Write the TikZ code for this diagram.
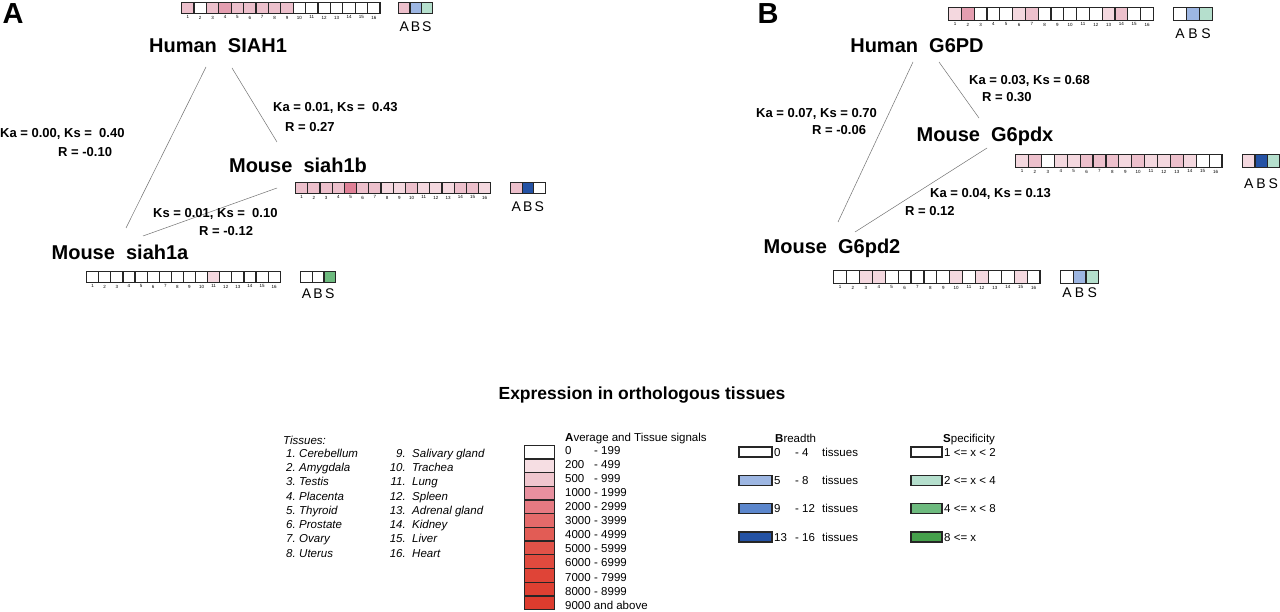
\documentclass[tikz,border=0pt]{standalone}
\usepackage{fontspec}
\setmainfont{Liberation Sans}
\usepackage{xcolor}
\usetikzlibrary{positioning,calc}

% strip colours
\definecolor{cw}{HTML}{FFFFFF}
\definecolor{cp1}{HTML}{F4D8DF}
\definecolor{cp2}{HTML}{EDC0CC}
\definecolor{cp3}{HTML}{E49EB0}
\definecolor{cp4}{HTML}{DF8096}
% legend colours
\definecolor{sg0}{HTML}{FFFFFF}
\definecolor{sg1}{HTML}{F6DEE3}
\definecolor{sg2}{HTML}{F0C6CE}
\definecolor{sg3}{HTML}{E8909F}
\definecolor{sg4}{HTML}{E67A82}
\definecolor{sg5}{HTML}{E46A6A}
\definecolor{sg6}{HTML}{E25C55}
\definecolor{sg7}{HTML}{E15248}
\definecolor{sg8}{HTML}{E04A3E}
\definecolor{sg9}{HTML}{DF4437}
\definecolor{sg10}{HTML}{DE4032}
\definecolor{sg11}{HTML}{DD3C2E}
\definecolor{br0}{HTML}{FFFFFF}
\definecolor{br1}{HTML}{9DB6E2}
\definecolor{br2}{HTML}{5B86CC}
\definecolor{br3}{HTML}{2452A4}
\definecolor{sp0}{HTML}{FFFFFF}
\definecolor{sp1}{HTML}{B5DFCD}
\definecolor{sp2}{HTML}{6DBA7E}
\definecolor{sp3}{HTML}{45A04B}

\begin{document}
\begin{tikzpicture}[x=1pt, y=-1pt,
  panel/.style={font=\bfseries\fontsize{29}{30}\selectfont, inner sep=0pt},
  gene/.style={font=\bfseries\fontsize{20}{24}\selectfont, inner sep=0pt,
               text height=14.5pt, text depth=0pt},
  kaks/.style={font=\bfseries\fontsize{13}{15}\selectfont, inner sep=0pt,
               anchor=west, text height=9.4pt, text depth=0pt},
  tbox/.style={draw=black!85, line width=1.2pt, anchor=north west, inner sep=0pt},
  tnum/.style={font=\fontsize{4.5}{5}\selectfont, inner sep=0pt},
  absl/.style={font=\fontsize{14}{16}\selectfont, inner sep=0pt},
  edge/.style={draw=black!55, line width=0.5pt},
  lbox/.style={draw=black!85, line width=1.3pt, inner sep=0pt},
  ltxt/.style={font=\fontsize{11.5}{13}\selectfont, inner sep=0pt,
               anchor=west, text height=8.3pt, text depth=0pt},
  tis/.style={font=\itshape\fontsize{11.5}{13}\selectfont, inner sep=0pt,
              text height=8.3pt, text depth=0pt}
]
\useasboundingbox[fill=white] (0,0) rectangle (1280,612);

% ---- Panel A ----
\node[panel] (pA) at (13,14) {A};
\node[gene] (hS)   at (218,45)  {Human\ \ SIAH1};
\node[gene] (ms1b) at (298,165) {Mouse\ \ siah1b};
\node[gene] (ms1a) at (120,252) {Mouse\ \ siah1a};

\draw[edge] ($(hS)+(-12,22)$) -- ($(ms1a)+(6,-24)$);
\draw[edge] ($(hS)+(14,23)$) -- ($(ms1b)+(-21,-23)$);
\draw[edge] ($(ms1b)+(-21,23)$) -- ($(ms1a)+(23,-16)$);

\node[kaks] (kA1) at (273,107) {Ka = 0.01, Ks = \ 0.43};
\node[kaks] (rA1) at (285,127) {R = 0.27};
\node[kaks] (kA2) at (0,133)   {Ka = 0.00, Ks = \ 0.40};
\node[kaks] (rA2) at (58,152)  {R = -0.10};
\node[kaks] (kA3) at (153,213) {Ks = 0.01, Ks = \ 0.10};
\node[kaks] (rA3) at (199,231) {R = -0.12};

% Human SIAH1 strip
\foreach \c [count=\i] in {cp2,cw,cp2,cp3,cp2,cp2,cp2,cp2,cp2,cw,cw,cw,cw,cw,cw,cw} {
  \node[tbox, minimum width=12.4pt, minimum height=11pt, fill=\c] (hSb\i) at ({181+12.4*(\i-1)},2) {};
  \node[tnum, below=1.5pt of hSb\i] (hSn\i) {\i};
}
\foreach \c/\l [count=\i] in {cp2/A,br1/B,sp1/S} {
  \node[tbox, minimum width=11.3pt, minimum height=11pt, fill=\c] (hSa\i) at ({398+11.3*(\i-1)},2) {};
  \node[absl, below=7pt of hSa\i] (hSl\i) {\l};
}

% Mouse siah1b strip
\foreach \c [count=\i] in {cp2,cp2,cp2,cp2,cp4,cp2,cp2,cp1,cp1,cp2,cp1,cp1,cp1,cp2,cp2,cp1} {
  \node[tbox, minimum width=12.2pt, minimum height=11pt, fill=\c] (s1bb\i) at ({295+12.2*(\i-1)},182) {};
  \node[tnum, below=1.5pt of s1bb\i] (s1bn\i) {\i};
}
\foreach \c/\l [count=\i] in {cp2/A,br3/B,cw/S} {
  \node[tbox, minimum width=11.5pt, minimum height=11pt, fill=\c] (s1ba\i) at ({510+11.5*(\i-1)},182) {};
  \node[absl, below=7pt of s1ba\i] (s1bl\i) {\l};
}

% Mouse siah1a strip
\foreach \c [count=\i] in {cw,cw,cw,cw,cw,cw,cw,cw,cw,cw,cp1,cw,cw,cw,cw,cw} {
  \node[tbox, minimum width=12.1pt, minimum height=11pt, fill=\c] (s1ab\i) at ({86+12.1*(\i-1)},271) {};
  \node[tnum, below=1.5pt of s1ab\i] (s1an\i) {\i};
}
\foreach \c/\l [count=\i] in {cw/A,cw/B,sp2/S} {
  \node[tbox, minimum width=11.7pt, minimum height=11pt, fill=\c] (s1aa\i) at ({300+11.7*(\i-1)},271) {};
  \node[absl, below=5pt of s1aa\i] (s1al\i) {\l};
}

% ---- Panel B ----
\node[panel] (pB) at (768,14) {B};
\node[gene] (hG)  at (917,45)  {Human\ \ G6PD};
\node[gene] (mGx) at (985,134) {Mouse\ \ G6pdx};
\node[gene] (mG2) at (832,246) {Mouse\ \ G6pd2};

\draw[edge] ($(hG)+(-4,17)$) -- ($(mG2)+(6,-24)$);
\draw[edge] ($(hG)+(22,17)$) -- ($(mGx)+(-6,-16)$);
\draw[edge] ($(mGx)+(2,14)$) -- ($(mG2)+(23,-14)$);

\node[kaks] (kB1) at (969,80)  {Ka = 0.03, Ks = 0.68};
\node[kaks] (rB1) at (982,97)  {R = 0.30};
\node[kaks] (kB2) at (756,113) {Ka = 0.07, Ks = 0.70};
\node[kaks] (rB2) at (812,130) {R = -0.06};
\node[kaks] (kB3) at (930,193) {Ka = 0.04, Ks = 0.13};
\node[kaks] (rB3) at (905,211) {R = 0.12};

% Human G6PD strip
\foreach \c [count=\i] in {cp1,cp3,cw,cw,cw,cp1,cp2,cw,cw,cw,cw,cw,cp1,cp2,cw,cw} {
  \node[tbox, minimum width=12.8pt, minimum height=13pt, fill=\c] (hGb\i) at ({948+12.8*(\i-1)},7) {};
  \node[tnum, below=1.5pt of hGb\i] (hGn\i) {\i};
}
\foreach \c/\l [count=\i] in {cw/A,br1/B,sp1/S} {
  \node[tbox, minimum width=13pt, minimum height=13pt, fill=\c] (hGa\i) at ({1173+13*(\i-1)},7) {};
  \node[absl, below=7pt of hGa\i] (hGl\i) {\l};
}

% Mouse G6pdx strip
\foreach \c [count=\i] in {cp1,cp2,cw,cp1,cp1,cp2,cp2,cp2,cp1,cp2,cp1,cp1,cp2,cp1,cw,cw} {
  \node[tbox, minimum width=12.9pt, minimum height=13pt, fill=\c] (mGxb\i) at ({1015+12.9*(\i-1)},154) {};
  \node[tnum, below=1.5pt of mGxb\i] (mGxn\i) {\i};
}
\foreach \c/\l [count=\i] in {cp1/A,br3/B,sp1/S} {
  \node[tbox, minimum width=12.3pt, minimum height=13pt, fill=\c] (mGxa\i) at ({1242+12.3*(\i-1)},154) {};
  \node[absl, below=10pt of mGxa\i] (mGxl\i) {\l};
}

% Mouse G6pd2 strip
\foreach \c [count=\i] in {cw,cw,cp1,cp1,cw,cw,cw,cw,cw,cp1,cw,cp1,cw,cw,cp1,cw} {
  \node[tbox, minimum width=12.9pt, minimum height=13pt, fill=\c] (mG2b\i) at ({833+12.9*(\i-1)},270) {};
  \node[tnum, below=1.5pt of mG2b\i] (mG2n\i) {\i};
}
\foreach \c/\l [count=\i] in {cw/A,br1/B,sp1/S} {
  \node[tbox, minimum width=12.7pt, minimum height=13pt, fill=\c] (mG2a\i) at ({1060+12.7*(\i-1)},270) {};
  \node[absl, below=3pt of mG2a\i] (mG2l\i) {\l};
}

% ---- Legend ----
\node[font=\bfseries\fontsize{17.5}{20}\selectfont, inner sep=0pt] (ttl) at (642,395)
  {Expression in orthologous tissues};

% tissues
\node[tis, anchor=west] (tish) at (283,440) {Tissues:};
\foreach \t [count=\i] in {Cerebellum,Amygdala,Testis,Placenta,Thyroid,Prostate,Ovary,Uterus} {
  \node[tis, anchor=east] (tn\i) at (296,{453+14.3*(\i-1)}) {\i.};
  \node[tis, anchor=west] (tt\i) at (299,{453+14.3*(\i-1)}) {\t};
}
\foreach \t [count=\i from 9] in {Salivary gland,Trachea,Lung,Spleen,Adrenal gland,Kidney,Liver,Heart} {
  \node[tis, anchor=east] (tn\i) at (406,{453+14.3*(\i-9)}) {\i.};
  \node[tis, anchor=west] (tt\i) at (412,{453+14.3*(\i-9)}) {\t};
}

% signals
\node[ltxt] (sgh) at (565,437) {\textbf{A}verage and Tissue signals};
\foreach \c/\lo/\hi [count=\i] in {sg0/0/199,sg1/200/499,sg2/500/999,sg3/1000/1999,
    sg4/2000/2999,sg5/3000/3999,sg6/4000/4999,sg7/5000/5999,sg8/6000/6999,
    sg9/7000/7999,sg10/8000/8999} {
  \node[lbox, anchor=north west, minimum width=30pt, minimum height=13.7pt, fill=\c] (sgb\i) at (524,{444.5+13.7*(\i-1)}) {};
  \node[ltxt] (sgt\i) at (565,{450+14.1*(\i-1)}) {\makebox[29pt][l]{\lo}- \hi};
}
\node[lbox, anchor=north west, minimum width=30pt, minimum height=13.7pt, fill=sg11] (sgb12) at (524,{444.5+13.7*11}) {};
\node[ltxt] (sgt12) at (565,{450+14.1*11}) {9000 and above};

% breadth
\node[ltxt] (brh) at (775,438) {\textbf{B}readth};
\foreach \c/\lo/\hi [count=\i] in {br0/0/4,br1/5/8,br2/9/12,br3/13/16} {
  \node[lbox, minimum width=33pt, minimum height=10pt, fill=\c] (brb\i) at (755.5,{452+28.3*(\i-1)}) {};
  \node[ltxt] (brt\i) at (774,{452+28.3*(\i-1)}) {\makebox[21pt][l]{\lo}- \makebox[20pt][l]{\hi}tissues};
}

% specificity
\node[ltxt] (sph) at (943,438) {\textbf{S}pecificity};
\foreach \c/\t [count=\i] in {sp0/1 <= x < 2,sp1/2 <= x < 4,sp2/4 <= x < 8,sp3/8 <= x} {
  \node[lbox, minimum width=31pt, minimum height=10pt, fill=\c] (spb\i) at (926.5,{452+28.3*(\i-1)}) {};
  \node[ltxt] (spt\i) at (944,{452+28.3*(\i-1)}) {\t};
}
\end{tikzpicture}
\end{document}
